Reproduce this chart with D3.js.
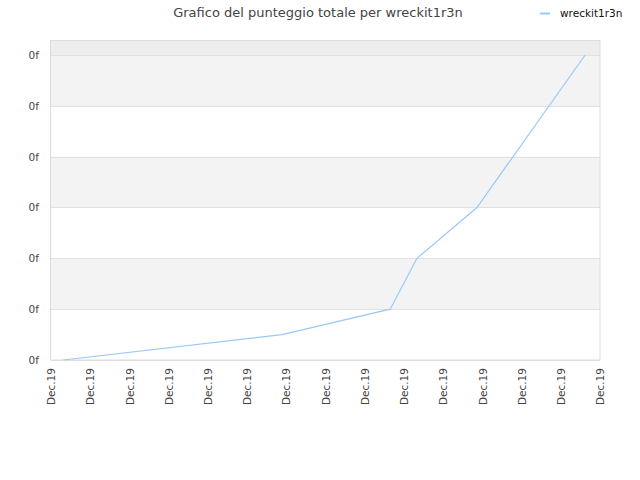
<!DOCTYPE html>
<html>
<head>
<meta charset="utf-8">
<script src="https://d3js.org/d3.v7.min.js"></script>
<style>
  body { margin: 0; background: #fff; }
  text { font-family: "DejaVu Sans", sans-serif; }
</style>
</head>
<body>
<div id="chart"></div>
<script>
// Punteggio totale per wreckit1r3n

// data
var seriesName = "wreckit1r3n";
var dates = ["2019-12-04T07:30", "2019-12-09T21:20", "2019-12-12T15:35",
             "2019-12-13T08:00", "2019-12-14T20:40", "2019-12-17T14:55"];
var scores = [0, 0.5, 1, 2, 3, 6];
var yTicks = [0, 1, 2, 3, 4, 5, 6];
var yTickLabels = ["0f", "0f", "0f", "0f", "0f", "0f", "0f"];
var xTickLabels = ["Dec.19", "Dec.19", "Dec.19", "Dec.19", "Dec.19",
                   "Dec.19", "Dec.19", "Dec.19", "Dec.19", "Dec.19",
                   "Dec.19", "Dec.19", "Dec.19", "Dec.19", "Dec.19"];

function line_chart(div_id) {
	var margin = {top: 40, right: 40, bottom: 120, left: 51},
		width = 640 - margin.left - margin.right,
		height = 480 - margin.top - margin.bottom;

	var parse = d3.timeParse("%Y-%m-%dT%H:%M");
	var data = dates.map(function(d, i) { return {date: parse(d), score: scores[i]}; });

	var start = parse("2019-12-04T00:00"), end = parse("2019-12-18T00:00");
	var x = d3.scaleTime().domain([start, end]).range([0, width]);
	var y = d3.scaleLinear().domain([0, 6.295]).range([height, 0]);

	var svg = d3.select('#' + div_id).append("svg")
		.attr("width", 640)
		.attr("height", 480);

	// title
	svg.append("text")
		.attr("x", 318)
		.attr("y", 17)
		.attr("text-anchor", "middle")
		.style("font-size", "13px")
		.style("fill", "#444")
		.text("Grafico del punteggio totale per " + seriesName);

	// legend
	svg.append("line")
		.attr("x1", 540).attr("x2", 550)
		.attr("y1", 13.5).attr("y2", 13.5)
		.style("stroke", "#99c9f7")
		.style("stroke-width", 2);
	svg.append("text")
		.attr("x", 560)
		.attr("y", 17)
		.style("font-size", "10.5px")
		.style("fill", "#111")
		.text(seriesName);

	var g = svg.append("g")
		.attr("transform", "translate(" + margin.left + "," + margin.top + ")");

	// background bands
	g.append("rect")
		.attr("width", width).attr("height", height)
		.style("fill", "#ededed");
	g.selectAll(".band")
		.data(yTicks.slice(0, -1))
		.enter().append("rect")
		  .attr("class", "band")
		  .attr("x", 0)
		  .attr("width", width)
		  .attr("y", function(d) { return y(d + 1); })
		  .attr("height", function(d) { return y(d) - y(d + 1); })
		  .style("fill", function(d) { return d % 2 ? "#f3f3f3" : "#fff"; });

	// grid lines
	g.selectAll(".grid")
		.data(yTicks)
		.enter().append("line")
		  .attr("x1", 0).attr("x2", width)
		  .attr("y1", function(d) { return Math.round(y(d)) + 0.5; })
		  .attr("y2", function(d) { return Math.round(y(d)) + 0.5; })
		  .style("stroke", "#e0e0e0");

	// frame
	g.append("rect")
		.attr("x", -0.5).attr("y", 0.5)
		.attr("width", width + 0.5).attr("height", height - 0.5)
		.style("fill", "none")
		.style("stroke", "#dcdcdc");

	// line
	g.append("path")
		.datum(data)
		.attr("d", d3.line()
			.x(function(d) { return x(d.date); })
			.y(function(d) { return y(d.score); }))
		.style("fill", "none")
		.style("stroke", "#99c9f7")
		.style("stroke-width", 1.2);

	// y axis
	var yAxis = g.append("g")
		.call(d3.axisLeft(y).tickValues(yTicks).tickSize(0).tickPadding(12)
			.tickFormat(function(d, i) { return yTickLabels[i]; }));
	yAxis.select(".domain").remove();
	yAxis.selectAll("text").style("font-size", "10.5px").style("fill", "#444");

	// x axis
	var xAxis = g.append("g")
		.attr("transform", "translate(0," + height + ")")
		.call(d3.axisBottom(x).tickValues(d3.timeDay.range(start, d3.timeDay.offset(end, 1)))
			.tickSize(0)
			.tickFormat(function(d, i) { return xTickLabels[i]; }));
	xAxis.select(".domain").remove();
	xAxis.selectAll("text")
		.style("font-size", "10.5px")
		.style("fill", "#444")
		.attr("text-anchor", "end")
		.attr("transform", "rotate(-90)")
		.attr("x", -8)
		.attr("y", 0)
		.attr("dy", "0.35em");
} // line_chart

line_chart("chart");
</script>
</body>
</html>
